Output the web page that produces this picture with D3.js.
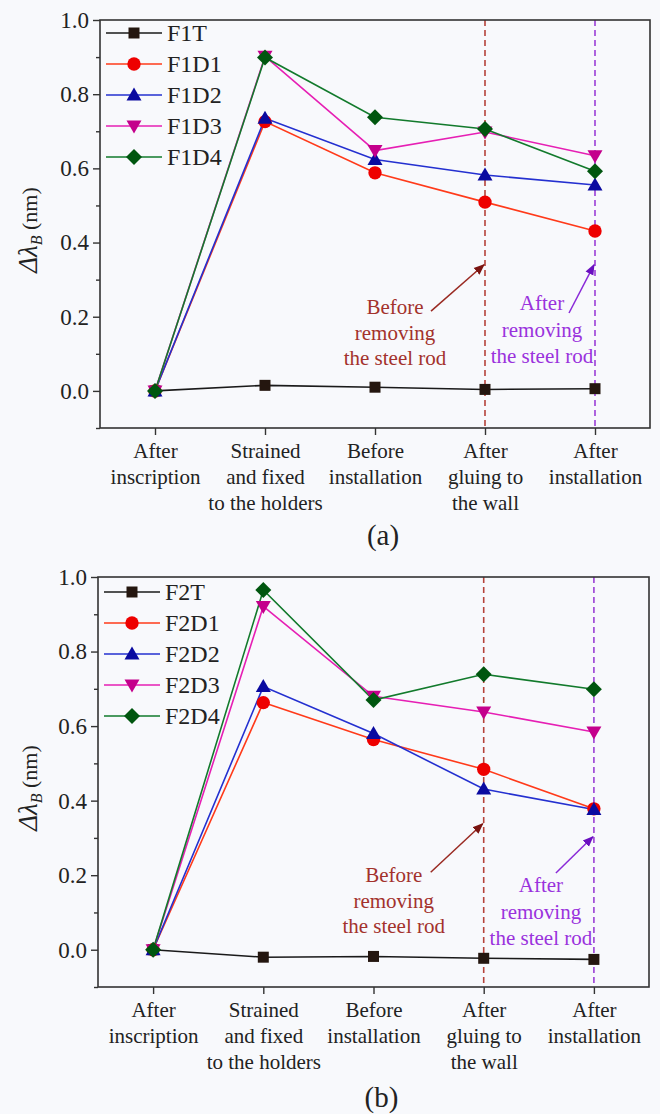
<!DOCTYPE html>
<html><head><meta charset="utf-8">
<script src="https://cdn.jsdelivr.net/npm/d3@7"></script>
<style>
html,body{margin:0;padding:0;background:#f8f9fc;}
svg{display:block;}
</style></head>
<body><svg id="c" width="660" height="1114"></svg>
<script>
// ---------- data ----------
const categories = ["After inscription","Strained and fixed to the holders","Before installation","After gluing to the wall","After installation"];
const categoryLines = [["After","inscription"],["Strained","and fixed","to the holders"],["Before","installation"],["After","gluing to","the wall"],["After","installation"]];
const yTicks = [0.0,0.2,0.4,0.6,0.8,1.0];
const yMinorTicks = [-0.1,0.1,0.3,0.5,0.7,0.9];

const seriesNamesA = ["F1T","F1D1","F1D2","F1D3","F1D4"];
const F1T  = [0, 0.015, 0.010, 0.004, 0.006];
const F1D1 = [0, 0.726, 0.588, 0.509, 0.431];
const F1D2 = [0, 0.735, 0.624, 0.582, 0.555];
const F1D3 = [0, 0.902, 0.648, 0.698, 0.634];
const F1D4 = [0, 0.899, 0.738, 0.706, 0.592];

const seriesNamesB = ["F2T","F2D1","F2D2","F2D3","F2D4"];
const F2T  = [0, -0.020, -0.018, -0.023, -0.026];
const F2D1 = [0, 0.663, 0.564, 0.484, 0.378];
const F2D2 = [0, 0.706, 0.580, 0.431, 0.376];
const F2D3 = [0, 0.921, 0.680, 0.638, 0.584];
const F2D4 = [0, 0.965, 0.670, 0.739, 0.699];

const annBefore = ["Before","removing","the steel rod"];
const annAfter = ["After","removing","the steel rod"];

// ---------- styles ----------
const FONT = "'Liberation Serif', 'Times New Roman', serif";
const styles = [
  {line:"#1a1a1a", fill:"#24160f", sym:"square"},
  {line:"#ff3a1a", fill:"#ee0000", sym:"circle"},
  {line:"#2430d0", fill:"#0a0aa0", sym:"triUp"},
  {line:"#e61fb4", fill:"#c4008c", sym:"triDown"},
  {line:"#127a2c", fill:"#00560f", sym:"diamond"}
];
function markerPath(sym){
  switch(sym){
    case "square": return "M-5.5,-5.5H5.5V5.5H-5.5Z";
    case "circle": return d3.symbol(d3.symbolCircle, 140)();
    case "triUp": return "M0,-7.5L7.5,5.5L-7.5,5.5Z";
    case "triDown": return "M0,7.5L7.5,-5.5L-7.5,-5.5Z";
    case "diamond": return "M0,-8L8,0L0,8L-8,0Z";
  }
}

const svg = d3.select("#c");

function panel(cfg){
  const {top,bottom,left,right,names,series,label,legendTop,ann,labelOff} = cfg;
  const g = svg.append("g");
  const x = d3.scalePoint().domain(categories).range([left,right]).padding(0.5);
  const y = d3.scaleLinear().domain([-0.1,1.0]).range([bottom,top]);

  // dashed vertical lines
  const vlines = [{cat:categories[3], color:"#b5433a"},{cat:categories[4], color:"#9b3fd6"}];
  vlines.forEach(v=>{
    g.append("line").attr("x1",x(v.cat)).attr("x2",x(v.cat)).attr("y1",top).attr("y2",bottom)
      .attr("stroke",v.color).attr("stroke-width",1.6).attr("stroke-dasharray","6,4");
  });

  // frame
  g.append("rect").attr("x",left).attr("y",top).attr("width",right-left).attr("height",bottom-top)
    .attr("fill","none").attr("stroke","#333").attr("stroke-width",1.6);

  // axes
  const yAxis = d3.axisLeft(y).tickValues(yTicks).tickFormat(d3.format(".1f")).tickSize(7).tickPadding(4);
  const ya = g.append("g").attr("transform",`translate(${left},0)`).call(yAxis);
  ya.select(".domain").remove();
  ya.selectAll("line").attr("stroke","#333").attr("stroke-width",1.4);
  ya.selectAll("text").style("font-size","23px").attr("fill","#222");
  const ym = g.append("g").attr("transform",`translate(${left},0)`).call(d3.axisLeft(y).tickValues(yMinorTicks).tickFormat("").tickSize(4));
  ym.select(".domain").remove();
  ym.selectAll("line").attr("stroke","#333").attr("stroke-width",1.4);

  const xa = g.append("g").attr("transform",`translate(0,${bottom})`).call(d3.axisBottom(x).tickSize(7).tickFormat(""));
  xa.select(".domain").remove();
  xa.selectAll("line").attr("stroke","#333").attr("stroke-width",1.4);
  xa.selectAll(".tick").each(function(d,i){
    const t = d3.select(this).append("text").attr("text-anchor","middle").style("font-size","21px").attr("fill","#222");
    categoryLines[i].forEach((ln,j)=>{
      t.append("tspan").attr("x",0).attr("y",30 + j*26).text(ln);
    });
  });

  // y label
  const cy = (top+bottom)/2 + 6;
  const yl = g.append("text").attr("transform",`translate(37,${cy}) rotate(-90)`).attr("text-anchor","middle")
    .style("font-size","22px").attr("fill","#222");
  yl.append("tspan").attr("font-style","italic").style("font-size","27px").text("Δλ");
  yl.append("tspan").attr("font-style","italic").style("font-size","16px").attr("dy",5).text("B");
  yl.append("tspan").attr("dy",-5).text(" (nm)");

  // series
  const line = d3.line().x((d,i)=>x(categories[i])).y(d=>y(d));
  series.forEach((s,k)=>{
    g.append("path").datum(s).attr("d",line).attr("fill","none").attr("stroke",styles[k].line).attr("stroke-width",1.6);
  });
  series.forEach((s,k)=>{
    g.selectAll(null).data(s).join("path")
      .attr("transform",(d,i)=>`translate(${x(categories[i])},${y(d)})`)
      .attr("d",markerPath(styles[k].sym)).attr("fill",styles[k].fill);
  });

  // legend
  names.forEach((n,k)=>{
    const ly = legendTop + k*31;
    const lx = left + 6;
    g.append("line").attr("x1",lx).attr("x2",lx+56).attr("y1",ly).attr("y2",ly).attr("stroke",styles[k].line).attr("stroke-width",1.6);
    g.append("path").attr("transform",`translate(${lx+28},${ly})`).attr("d",markerPath(styles[k].sym)).attr("fill",styles[k].fill);
    g.append("text").attr("x",lx+61).attr("y",ly).attr("dy","0.35em").style("font-size","24px").attr("fill","#222").text(n);
  });

  // annotations
  const defsId = "ah"+label.replace(/\W/g,"");
  const mk = (id,color)=>{
    svg.append("defs").append("marker").attr("id",id).attr("viewBox","0 0 10 10").attr("refX",9).attr("refY",5)
      .attr("markerWidth",11).attr("markerHeight",11).attr("markerUnits","userSpaceOnUse").attr("orient","auto")
      .append("path").attr("d","M0,1L10,5L0,9Z").attr("fill",color);
  };
  mk(defsId+"b","#7a1410");
  mk(defsId+"p","#6a10c0");
  const xb = x(categories[3]), xp = x(categories[4]);
  g.append("line").attr("x1",xb+ann.bTail[0]).attr("y1",y(ann.bTail[1])).attr("x2",xb-1).attr("y2",y(ann.bTip))
    .attr("stroke","#9a2a22").attr("stroke-width",1.5).attr("marker-end",`url(#${defsId}b)`);
  g.append("line").attr("x1",xp+ann.pTail[0]).attr("y1",y(ann.pTail[1])).attr("x2",xp-1).attr("y2",y(ann.pTip))
    .attr("stroke","#8a2ad8").attr("stroke-width",1.5).attr("marker-end",`url(#${defsId}p)`);
  annBefore.forEach((t,j)=>{
    g.append("text").attr("x",xb+ann.bText[0]).attr("y",y(ann.bText[1])+j*25.5).attr("dy","0.35em").attr("text-anchor","middle")
      .style("font-size","21px").attr("fill","#a3322c").text(t);
  });
  annAfter.forEach((t,j)=>{
    g.append("text").attr("x",xp+ann.pText[0]).attr("y",y(ann.pText[1])+j*26.5).attr("dy","0.35em").attr("text-anchor","middle")
      .style("font-size","21px").attr("fill","#9a32dd").text(t);
  });

  // panel label
  g.append("text").attr("x",(left+right)/2 + 8).attr("y",bottom+labelOff).attr("dy","0.35em").attr("text-anchor","middle")
    .style("font-size","29px").attr("fill","#222").text(label);
}

panel({top:20,bottom:428,left:100,right:650,names:seriesNamesA,series:[F1T,F1D1,F1D2,F1D3,F1D4],label:"(a)",legendTop:33,labelOff:107,
  ann:{bTail:[-54,0.215],bTip:0.34,pTail:[-26,0.21],pTip:0.34,bText:[-90,0.226],pText:[-53,0.237]}});
panel({top:577,bottom:987,left:98,right:649,names:seriesNamesB,series:[F2T,F2D1,F2D2,F2D3,F2D4],label:"(b)",legendTop:592,labelOff:110,
  ann:{bTail:[-53,0.208],bTip:0.338,pTail:[-38,0.206],pTip:0.303,bText:[-90,0.201],pText:[-53,0.174]}});

svg.selectAll("text").style("font-family",FONT);
</script></body></html>
